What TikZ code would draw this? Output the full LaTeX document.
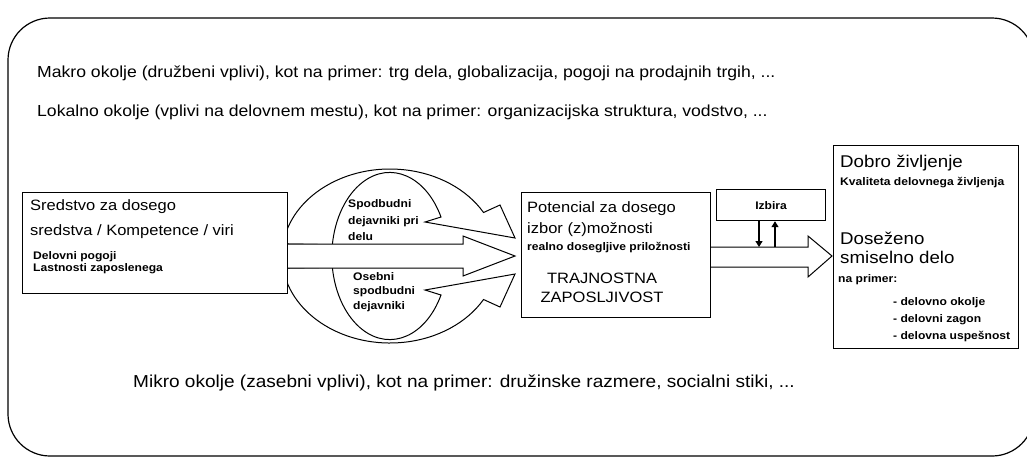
\documentclass[tikz,border=0pt]{standalone}
\usepackage{fontspec}
\setmainfont{Liberation Sans}[FakeStretch=1.1]
\usetikzlibrary{arrows.meta}

\begin{document}
\begin{tikzpicture}[x=1pt, y=-1pt,
	box/.style = {draw, line width=1.2pt, fill=white, anchor=north west, inner sep=0pt},
	okolje/.style = {anchor=west, inner sep=0pt, font=\fontsize{16}{19}\selectfont},
	txt/.style = {anchor=west, inner sep=0pt, font=\fontsize{15}{18}\selectfont},
	big/.style = {anchor=west, inner sep=0pt, font=\fontsize{17}{20}\selectfont},
	small/.style = {anchor=west, inner sep=0pt, font=\fontsize{11}{13}\selectfont\bfseries},
	blockarrow/.style = {draw, line width=1pt, fill=white},
	smallarrow/.style = {line width=1.2pt, -{Triangle[length=6pt, width=7pt]}}]
	\def\cx{390};
	\def\cy{256};
	
	\useasboundingbox (0,0) rectangle (1027,459);
	\clip (0,0) rectangle (1027,459);
	
	\draw [line width=1.2pt, rounded corners=42pt] (8,18) rectangle (1034,456);
	
	\node [okolje] (makro) at (37,73) {Makro okolje (družbeni vplivi), kot na primer: trg dela, globalizacija, pogoji na prodajnih trgih, ...};
	\node [okolje] (lokalno) at (37,112) {Lokalno okolje (vplivi na delovnem mestu), kot na primer: organizacijska struktura, vodstvo, ...};
	\node [okolje, font=\fontsize{17.3}{20}\selectfont] (mikro) at (133,383) {Mikro okolje (zasebni vplivi), kot na primer: družinske razmere, socialni stiki, ...};
	
	\draw [blockarrow] (\cx,\cy) ++(-172:108 and 87) arc [start angle=-172, end angle=-30, x radius=108, y radius=87] -- (500,205) -- (515,238) -- (425,222) -- (441,217) arc [start angle=-28, end angle=-172, x radius=58, y radius=84] -- cycle;
	\draw [blockarrow] (\cx,\cy) ++(172:108 and 87) arc [start angle=172, end angle=30, x radius=108, y radius=87] -- (500,307) -- (515,274) -- (425,290) -- (441,295) arc [start angle=28, end angle=172, x radius=58, y radius=84] -- cycle;
	
	\draw [blockarrow] (287,244) -- (463,244) -- (463,236) -- (515,256) -- (463,276) -- (463,268) -- (287,268);
	\draw [blockarrow] (710,247) -- (808,247) -- (808,236) -- (832,256) -- (808,277) -- (808,267) -- (710,267);
	
	\node [small] (spodbudni) at (348,205) {Spodbudni};
	\node [small] at (348,222) {dejavniki pri};
	\node [small] at (348,237) {delu};
	\node [small] (osebni) at (353,277) {Osebni};
	\node [small] at (353,292) {spodbudni};
	\node [small] at (353,307) {dejavniki};
	
	\node [box, minimum width=265pt, minimum height=101pt] (sredstvo) at (22,192) {};
	\node [txt] at (30,207) {Sredstvo za dosego};
	\node [txt] at (30,232) {sredstva / Kompetence / viri};
	\node [small] at (33,257) {Delovni pogoji};
	\node [small] at (33,269) {Lastnosti zaposlenega};
	
	\node [box, minimum width=189pt, minimum height=125pt] (potencial) at (521,192) {};
	\node [txt] at (527,209) {Potencial za dosego};
	\node [txt] at (527,230) {izbor (z)možnosti};
	\node [small] at (527,248) {realno dosegljive priložnosti};
	\node [txt, anchor=center] at (602,278) {TRAJNOSTNA};
	\node [txt, anchor=center] at (602,297) {ZAPOSLJIVOST};
	
	\node [box, minimum width=109pt, minimum height=31pt, font=\fontsize{11}{13}\selectfont\bfseries] (izbira) at (716,189) {Izbira};
	\coordinate (izdol) at (759,247);
	\coordinate (izgor) at (775,247);
	\draw [smallarrow] (izbira.south -| izdol) -- (izdol);
	\draw [smallarrow] (izgor) -- (izbira.south -| izgor);
	
	\node [box, minimum width=185pt, minimum height=203pt] (dobro) at (833,145) {};
	\node [big] at (840,163) {Dobro življenje};
	\node [small] at (840,183) {Kvaliteta delovnega življenja};
	\node [big] at (840,238) {Doseženo};
	\node [big] at (840,257) {smiselno delo};
	\node [small] at (838,280) {na primer:};
	\node [small] at (893,303) {- delovno okolje};
	\node [small] at (893,320) {- delovni zagon};
	\node [small] at (893,337) {- delovna uspešnost};
\end{tikzpicture}
\end{document}
